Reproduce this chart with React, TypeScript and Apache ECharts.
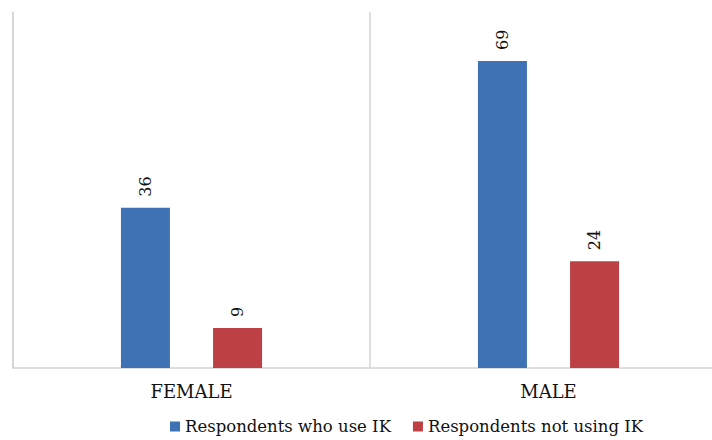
import React, { useEffect, useRef } from "react";
import * as echarts from "echarts";

const categories = ["FEMALE", "MALE"];
const seriesNames = ["Respondents who use IK", "Respondents not using IK"];
const useIK = [36, 69];
const notUsingIK = [9, 24];

export default function App() {
  const ref = useRef<HTMLDivElement>(null);
  useEffect(() => {
    document.body.style.margin = "0";
    const chart = echarts.init(ref.current!, null, { renderer: "svg" });
    const font = "DejaVu Serif";
    const label = {
      show: true,
      position: "top",
      rotate: 90,
      align: "left",
      verticalAlign: "middle",
      distance: 11,
      color: "#111",
      fontFamily: font,
      fontSize: 16,
    };
    chart.setOption({
      animation: false,
      backgroundColor: "#fff",
      grid: { left: 13, top: 12, width: 714, height: 356 },
      legend: {
        top: 413,
        left: 165,
        itemWidth: 10,
        itemHeight: 10,
        itemGap: 22,
        icon: "rect",
        textStyle: { fontFamily: font, fontSize: 16.5, color: "#111" },
        data: seriesNames,
      },
      xAxis: {
        type: "category",
        data: categories,
        axisLine: { show: true, lineStyle: { color: "#d4d4d4", width: 1.5 } },
        axisTick: { show: false },
        splitLine: { show: true, lineStyle: { color: "#d4d4d4", width: 1.5 } },
        axisLabel: { fontFamily: font, fontSize: 18, color: "#111", margin: 14 },
      },
      yAxis: {
        type: "value",
        min: 0,
        max: 80,
        axisLine: { show: true, lineStyle: { color: "#d4d4d4", width: 1.5 } },
        axisTick: { show: false },
        axisLabel: { show: false },
        splitLine: { show: false },
      },
      series: [
        {
          name: seriesNames[0],
          type: "bar",
          data: useIK,
          barWidth: 49,
          barGap: "88%",
          itemStyle: { color: "#3F72B5" },
          label,
        },
        {
          name: seriesNames[1],
          type: "bar",
          data: notUsingIK,
          barWidth: 49,
          barGap: "88%",
          itemStyle: { color: "#BD4144" },
          label,
        },
      ],
    });
    return () => chart.dispose();
  }, []);
  return (
    <div style={{ width: 712, height: 440, overflow: "hidden" }}>
      <div ref={ref} style={{ width: 730, height: 440 }} />
    </div>
  );
}
